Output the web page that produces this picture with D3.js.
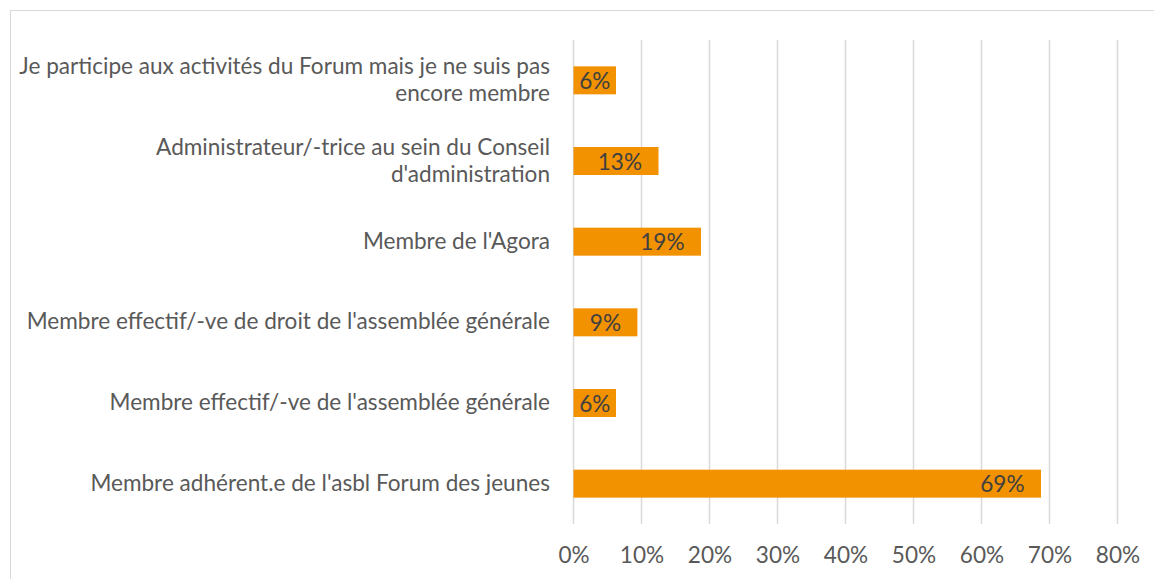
<!DOCTYPE html>
<html>
<head>
<meta charset="utf-8">
<script src="https://cdn.jsdelivr.net/npm/d3@7"></script>
<style>
  html, body { margin: 0; padding: 0; background: #fff; }
  svg { display: block; }
  text { font-family: Lato, "Open Sans", sans-serif; }
</style>
</head>
<body>
<svg id="chart" width="1154" height="579"></svg>
<script>
// ---- data ----
const categories = [
  "Je participe aux activités du Forum mais je ne suis pas\nencore membre",
  "Administrateur/-trice au sein du Conseil\nd'administration",
  "Membre de l'Agora",
  "Membre effectif/-ve de droit de l'assemblée générale",
  "Membre effectif/-ve de l'assemblée générale",
  "Membre adhérent.e de l'asbl Forum des jeunes"
];
const values = [0.0625, 0.125, 0.1875, 0.094, 0.0625, 0.6875];
const xTicks = [0, 0.1, 0.2, 0.3, 0.4, 0.5, 0.6, 0.7, 0.8];
const xTickLabels = ["0%", "10%", "20%", "30%", "40%", "50%", "60%", "70%", "80%"];

// ---- layout ----
const W = 1154, H = 579;
const plot = { left: 573.5, right: 1117.5, top: 40, bottom: 524 };
const svg = d3.select("#chart");

// chart border
svg.append("rect")
  .attr("x", 10.5).attr("y", 10.5)
  .attr("width", W + 20).attr("height", H + 20)
  .attr("fill", "none").attr("stroke", "#d9d9d9").attr("stroke-width", 1);

const x = d3.scaleLinear().domain([0, 0.8]).range([plot.left, plot.right]);
const y = d3.scaleBand().domain(categories).range([plot.top, plot.bottom])
  .paddingInner(0.653).paddingOuter(0.3265);

// font size calibrated to the reference's text width
const probe = svg.append("text").attr("font-size", 20).text(categories[5]);
const w20 = probe.node().getComputedTextLength();
probe.remove();
const fs = Math.min(24, 20 * 460 / w20);

// gridlines
svg.append("g").selectAll("line").data(xTicks).join("line")
  .attr("x1", d => x(d)).attr("x2", d => x(d))
  .attr("y1", plot.top).attr("y2", plot.bottom)
  .attr("stroke", "#d9d9d9").attr("stroke-width", 1.5);

// x axis (labels only)
const xAxis = d3.axisBottom(x).tickValues(xTicks)
  .tickFormat((d, i) => xTickLabels[i]).tickSize(0).tickPadding(0);
const gx = svg.append("g").attr("transform", `translate(0,${plot.bottom})`).call(xAxis);
gx.select(".domain").remove();
gx.selectAll("text")
  .attr("dy", null).attr("y", 39)
  .attr("font-size", fs).attr("font-family", "Lato, 'Open Sans', sans-serif")
  .attr("fill", "#595959");

// y axis (category labels, right aligned, multi-line)
const lineH = 27;
const gy = svg.append("g");
categories.forEach(c => {
  const lines = c.split("\n");
  const cy = y(c) + y.bandwidth() / 2;
  const t = gy.append("text")
    .attr("text-anchor", "end")
    .attr("font-size", fs)
    .attr("fill", "#595959");
  lines.forEach((ln, i) => {
    t.append("tspan")
      .attr("x", 550)
      .attr("y", cy + 7 + (i - (lines.length - 1) / 2) * lineH)
      .text(ln);
  });
});

// bars
svg.append("g").selectAll("rect").data(values).join("rect")
  .attr("x", x(0))
  .attr("y", (d, i) => y(categories[i]))
  .attr("width", d => x(d) - x(0))
  .attr("height", y.bandwidth())
  .attr("fill", "#f39200");

// value labels (inside end)
const pad = 16.5;
const gl = svg.append("g");
values.forEach((v, i) => {
  const label = Math.round(v * 100) + "%";
  const t = gl.append("text")
    .attr("font-size", fs)
    .attr("fill", "#404040")
    .attr("y", y(categories[i]) + y.bandwidth() / 2 + 8.5)
    .text(label);
  const tw = t.node().getComputedTextLength();
  const x0 = x(0), x1 = x(v);
  if (x1 - x0 - tw >= 2 * pad) {
    t.attr("text-anchor", "end").attr("x", x1 - pad);
  } else {
    t.attr("text-anchor", "middle").attr("x", (x0 + x1) / 2);
  }
});
</script>
</body>
</html>
